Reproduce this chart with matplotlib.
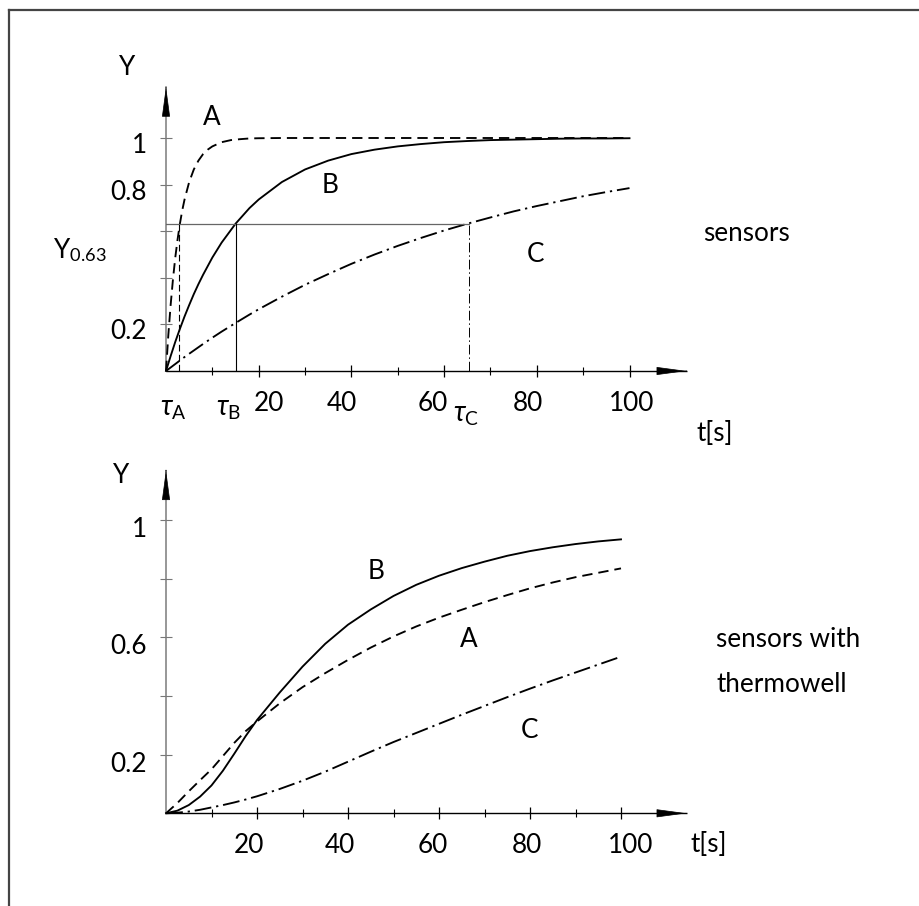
import matplotlib
matplotlib.use('Agg')
import matplotlib.pyplot as plt
from matplotlib.lines import Line2D

plt.rcParams['font.family'] = ['Lato', 'DejaVu Sans']
plt.rcParams['mathtext.fontset'] = 'custom'
plt.rcParams['mathtext.rm'] = 'Lato'
plt.rcParams['mathtext.it'] = 'Lato:italic'
plt.rcParams['mathtext.fallback'] = 'stixsans'

# ---------------- data: top panel (sensors) ----------------
t_top_A = [0, 0.5, 1, 1.5, 2, 2.5, 3, 3.5, 4, 5, 6, 7, 8, 9, 10, 12, 14, 16, 18, 20, 25, 30, 100]
y_top_A = [0, .154, .283, .393, .487, .565, .632, .689, .736, .811, .865, .903, .931, .950, .964,
           .982, .991, .995, .998, .999, 1.0, 1.0, 1.0]
t_top = [0, 1, 2, 3, 4, 5, 6, 7, 8, 10, 12, 15, 18, 20, 25, 30, 35, 40, 45, 50, 55, 60, 65, 70,
         75, 80, 85, 90, 95, 100]
y_top_B = [0, .064, .125, .181, .234, .283, .330, .373, .413, .487, .551, .632, .699, .736, .811,
           .865, .903, .931, .950, .964, .974, .982, .987, .991, .993, .995, .997, .998, .998, .999]
y_top_C = [0, .015, .030, .045, .060, .074, .088, .102, .116, .143, .169, .206, .242, .265, .319,
           .370, .416, .460, .500, .537, .571, .603, .632, .659, .685, .708, .729, .750, .768, .785]
tau_values = [2.9, 15.0, 65.4]
tau_labels = [r'$\tau_{\mathrm{A}}$', r'$\tau_{\mathrm{B}}$', r'$\tau_{\mathrm{C}}$']
y063 = 0.632

# ---------------- data: bottom panel (sensors with thermowell) ----------------
t_bot = [0, 2.5, 5, 7.5, 10, 12.5, 15, 17.5, 20, 25, 30, 35, 40, 45, 50, 55, 60, 65, 70, 75, 80,
         85, 90, 95, 100]
y_bot_A = [0, .035, .075, .113, .150, .195, .240, .280, .313, .375, .430, .478, .523, .565, .603,
           .637, .667, .694, .720, .744, .767, .787, .805, .820, .835]
y_bot_B = [0, .009, .028, .057, .095, .145, .203, .263, .318, .412, .500, .578, .643, .695, .741,
           .779, .810, .836, .858, .878, .894, .907, .918, .927, .934]
y_bot_C = [0, .002, .006, .012, .020, .028, .037, .047, .058, .083, .111, .142, .176, .210, .243,
           .274, .305, .336, .366, .396, .425, .453, .480, .507, .534]

x_major = [20, 40, 60, 80, 100]
x_minor = [10, 30, 50, 70, 90]
x_labels = ['20', '40', '60', '80', '100']
y_ticks = [0.2, 0.4, 0.6, 0.8, 1.0]
y_labels_top = ['0.2', '', '', '0.8', '1']
y_labels_bot = ['0.2', '', '0.6', '', '1']

# ---------------- layout ----------------
W, H = 919, 906
FS = 18.8
fig = plt.figure(figsize=(W / 100, H / 100), dpi=100)


def px_axes(x0, x1, y0, y1):
    return fig.add_axes([x0 / W, 1 - y0 / H, (x1 - x0) / W, (y0 - y1) / H])


ax1 = px_axes(166, 629.5, 371, 138)
ax2 = px_axes(166, 621, 813.3, 520)

DASH = (0, (5.5, 3.2))
DASHDOT = (0, (9, 2.6, 1.2, 2.6))
LW = 1.35


def setup(ax, xtip, ytip, ylabels, xlab_dx, ylab_dy):
    ax.set_xlim(0, 100)
    ax.set_ylim(0, 1)
    ax.patch.set_visible(False)
    for s in ax.spines.values():
        s.set_visible(False)
    ax.set_xticks(x_major)
    ax.set_xticks(x_minor, minor=True)
    ax.set_yticks(y_ticks)
    ax.tick_params(axis='x', which='major', direction='inout', length=9, width=0.9,
                   color='k', labelbottom=False)
    ax.tick_params(axis='x', which='minor', direction='inout', length=6, width=0.8,
                   color='k', labelbottom=False)
    ax.tick_params(axis='y', which='major', direction='inout', length=8, width=0.8,
                   color='#777777', labelleft=False)
    # axis lines
    ax.plot([0, xtip], [0, 0], color='k', lw=1.0, clip_on=False, solid_capstyle='butt')
    ax.plot([0, 0], [0, ytip], color='#7a7a7a', lw=1.1, clip_on=False, solid_capstyle='butt')
    # arrow heads
    ax.annotate('', xy=(xtip, 0), xytext=(xtip - 0.001, 0), annotation_clip=False,
                arrowprops=dict(arrowstyle='-|>,head_length=0.97,head_width=0.13',
                                mutation_scale=20, color='k', lw=0.5,
                                shrinkA=0, shrinkB=0))
    ax.annotate('', xy=(0, ytip), xytext=(0, ytip - 0.0001), annotation_clip=False,
                arrowprops=dict(arrowstyle='-|>,head_length=0.97,head_width=0.13',
                                mutation_scale=20, color='k', lw=0.5,
                                shrinkA=0, shrinkB=0))
    # tick labels
    for v, lab, dx in zip(x_major, x_labels, xlab_dx):
        ax.annotate(lab, xy=(v, 0), xytext=(dx, -40), textcoords='offset pixels',
                    ha='center', va='baseline', fontsize=FS, annotation_clip=False)
    for v, lab in zip(y_ticks, ylabels):
        if lab:
            ax.annotate(lab, xy=(0, v), xytext=(-19, ylab_dy), textcoords='offset pixels',
                        ha='right', va='baseline', fontsize=FS, annotation_clip=False)


# ---- top panel ----
setup(ax1, 112.3, 1.22, y_labels_top, [10, -10, -11, -9, 2], -15)
ax1.plot(t_top_A, y_top_A, color='k', lw=LW, linestyle=DASH, clip_on=False)
ax1.plot(t_top, y_top_B, color='k', lw=LW, clip_on=False)
ax1.plot(t_top, y_top_C, color='k', lw=LW, linestyle=DASHDOT, clip_on=False)
ax1.plot([0, tau_values[2]], [y063, y063], color='#666666', lw=0.9)
ax1.plot([tau_values[0]] * 2, [0, y063], color='k', lw=0.8, linestyle=(0, (6, 3)))
ax1.plot([tau_values[1]] * 2, [0, y063], color='k', lw=0.8)
ax1.plot([tau_values[2]] * 2, [0, y063], color='k', lw=0.7, linestyle=(0, (10, 3, 1.5, 3)))
for v, lab, dx, dy in zip(tau_values, tau_labels, [-6, -7, -3], [-44, -44, -51]):
    ax1.annotate(lab, xy=(v, 0), xytext=(dx, dy), textcoords='offset pixels',
                 ha='center', va='baseline', fontsize=FS + 1, annotation_clip=False)
ax1.text(-8.3, 1.27, 'Y', ha='center', va='baseline', fontsize=FS)
ax1.text(-24.4, 0.485, r'Y$_{0.63}$', ha='left', va='baseline', fontsize=FS)
ax1.text(9.86, 1.056, 'A', ha='center', va='baseline', fontsize=FS)
ax1.text(35.3, 0.765, 'B', ha='center', va='baseline', fontsize=FS)
ax1.text(79.8, 0.469, 'C', ha='center', va='baseline', fontsize=FS)
ax1.text(115.9, 0.559, 'sensors', ha='left', va='baseline', fontsize=FS)
ax1.text(114.5, -0.30, 't[s]', ha='left', va='baseline', fontsize=FS)

# ---- bottom panel ----
setup(ax2, 114.4, 1.17, y_labels_bot, [-8, -8, -6, -3, 10], -17)
ax2.plot(t_bot, y_bot_A, color='k', lw=LW, linestyle=DASH, clip_on=False)
ax2.plot(t_bot, y_bot_B, color='k', lw=LW, clip_on=False)
ax2.plot(t_bot, y_bot_C, color='k', lw=LW, linestyle=DASHDOT, clip_on=False)
ax2.text(-9.9, 1.125, 'Y', ha='center', va='baseline', fontsize=FS)
ax2.text(46.1, 0.798, 'B', ha='center', va='baseline', fontsize=FS)
ax2.text(66.5, 0.568, 'A', ha='center', va='baseline', fontsize=FS)
ax2.text(79.8, 0.256, 'C', ha='center', va='baseline', fontsize=FS)
ax2.text(120.9, 0.568, 'sensors with', ha='left', va='baseline', fontsize=FS)
ax2.text(120.9, 0.415, 'thermowell', ha='left', va='baseline', fontsize=FS)
ax2.text(115.3, -0.131, 't[s]', ha='left', va='baseline', fontsize=FS)

# ---- frame (top and left edges visible) ----
fig.add_artist(Line2D([9.3 / W, 9.3 / W], [0, 1 - 10 / H], color='#444444', lw=1.6,
                      transform=fig.transFigure))
fig.add_artist(Line2D([9.3 / W, 1], [1 - 10 / H, 1 - 10 / H], color='#444444', lw=1.6,
                      transform=fig.transFigure))

fig.savefig('out.png', dpi=100)
